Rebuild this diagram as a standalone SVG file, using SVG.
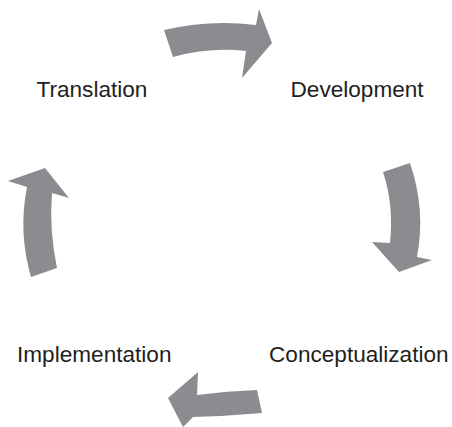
<svg xmlns="http://www.w3.org/2000/svg" width="452" height="427" viewBox="0 0 452 427">
<style>
.lbl{font-family:"Liberation Sans",Arial,sans-serif;font-size:22.6px;fill:#231f20}
.arr{fill:#8b8c8f}
</style>
<rect width="452" height="427" fill="#ffffff"/>
<g id="translation"><text class="lbl" x="36.5" y="97">Translation</text></g>
<g id="development"><text class="lbl" x="290.5" y="97">Development</text></g>
<g id="implementation"><text class="lbl" x="17" y="362">Implementation</text></g>
<g id="conceptualization"><text class="lbl" x="269" y="362">Conceptualization</text></g>
<g id="connectors">
<path class="arr" d="M164,30 Q210,19 256,25 L259,9 L272,43 L242,78 L246,51 Q210,47 173,57 Z"/>
<path class="arr" d="M383,172 L410,163 Q426,210 417,257 L432,260 L399,272 L372,242 L390,243 Q394,205 383,172 Z"/>
<path class="arr" d="M257,390 Q227,391 197,395 L198,372 L168,398 L183,427 L193,417 Q228,416 262,413 Z"/>
<path class="arr" d="M31,277 Q18,232 27,187 L8,181 L45,168 L69,198 L52,193 Q49,230 57,268 Z"/>
</g>
</svg>
